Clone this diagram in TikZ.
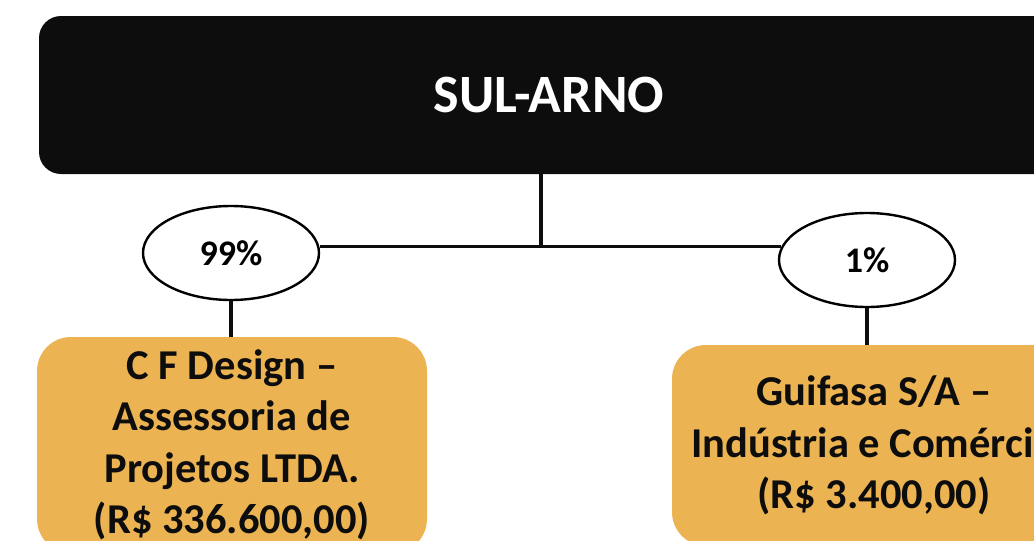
\documentclass[tikz,border=0pt]{standalone}
\usepackage{fontspec}
\setmainfont{Carlito}
\usetikzlibrary{shapes.geometric}
\definecolor{orangebox}{RGB}{235,179,82}
\definecolor{topblack}{RGB}{13,13,13}
\begin{document}
\begin{tikzpicture}[x=1pt,y=-1pt,
  topbox/.style={fill=topblack, rounded corners=22pt, inner sep=0pt,
    minimum width=1020pt, minimum height=158pt, text=white,
    font=\fontsize{54}{64}\selectfont\bfseries},
  share/.style={ellipse, draw=black, line width=2.4pt, fill=white, inner sep=0pt,
    minimum width=176pt, minimum height=94pt,
    font=\fontsize{36}{43}\selectfont\bfseries},
  company/.style={fill=orangebox, rounded corners=34pt, inner sep=0pt, align=center,
    text=topblack, font=\fontsize{42.5}{51.5}\selectfont\bfseries},
  link/.style={line width=3.4pt, draw=topblack}]
\useasboundingbox (0,0) rectangle (1034,541);
\clip (0,0) rectangle (1034,541);
\node[topbox] (top) at (549,95) {SUL-ARNO};
\node[share] (p99) at (231,253) {99\%};
\node[share] (p1) at (867,260) {1\%};
\node[company, minimum width=390pt, minimum height=216pt] (cf) at (232,445)
  {C F Design --\\Assessoria de\\Projetos LTDA.\\(R\$ 336.600,00)};
\node[company, minimum width=404pt, minimum height=201pt] (gf) at (874,445.5)
  {Guifasa S/A --\\Indústria e Comércio\\(R\$ 3.400,00)};
\coordinate (j) at (541,246.5);
\draw[link] (j |- top.south) -- (j);
\draw[link] (j -| p99.east) -- (j -| p1.171);
\draw[link] (p99.south) -- (p99.south |- cf.north);
\draw[link] (p1.south) -- (p1.south |- gf.north);
\end{tikzpicture}
\end{document}
